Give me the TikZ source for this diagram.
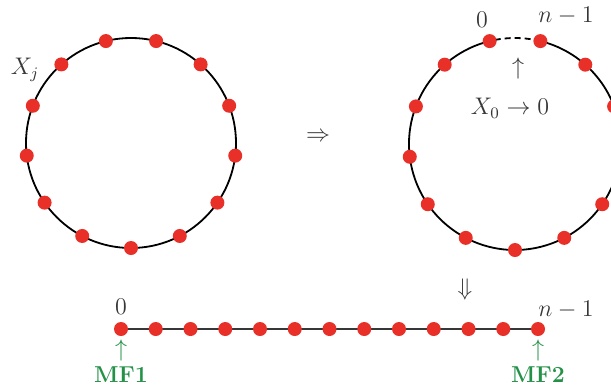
\documentclass[tikz,border=0pt]{standalone}
\usepackage{amsmath}
\usetikzlibrary{backgrounds}
\definecolor{dotred}{RGB}{232,48,40}
\definecolor{mfgreen}{RGB}{36,145,72}
\definecolor{txt}{RGB}{55,55,55}
\begin{document}
\begin{tikzpicture}[x=0.5pt,y=0.5pt,
  dot/.style={circle,fill=dotred,inner sep=0pt,minimum size=7pt},
  lbl/.style={text=txt,font=\fontsize{11.5}{13}\selectfont,inner sep=1pt},
  mf/.style={text=mfgreen,font=\fontsize{11.5}{13}\selectfont\bfseries,inner sep=1pt},
  ring/.style={line width=0.9pt,black},
  chain/.style={line width=0.9pt,txt}]
\useasboundingbox (0,0) rectangle (611,388);
\clip (0,0) rectangle (611,388);
\coordinate (LC) at (131,245);
\coordinate (RC) at (515,244);
% left ring
\draw[ring] (LC) circle[radius=52.5pt];
\foreach \k in {0,...,12}{
  \pgfmathsetmacro{\ang}{-90+\k*27.6923}
  \node[dot] (L\k) at ([shift={(\ang:52.5pt)}]LC) {};
}
% right ring
\draw[ring] ([shift={(103.85:53pt)}]RC) arc[start angle=103.85,end angle=436.15,radius=53pt];
\draw[ring,densely dashed] ([shift={(76.15:53pt)}]RC) arc[start angle=76.15,end angle=103.85,radius=53pt];
\foreach \k in {0,...,12}{
  \pgfmathsetmacro{\ang}{-90+\k*27.6923}
  \node[dot] (R\k) at ([shift={(\ang:53pt)}]RC) {};
}
% chain
\foreach \k in {0,...,12}{
  \node[dot] (B\k) at (121+\k*34.75,59) {};
}
\begin{pgfonlayer}{background}
\draw[chain] (B0) -- (B12);
\end{pgfonlayer}
% labels
\node[lbl] (xj) at (25,318) {$X_j$};
\node[lbl] (r0) at (482,368) {$0$};
\node[lbl] (rn) at (566,372) {$n-1$};
\node[lbl] (up) at (518,320) {$\uparrow$};
\node[lbl] (x0) at (510,280) {$X_0\to 0$};
\node[lbl] (imp) at (318,251) {$\Rightarrow$};
\node[lbl] (dimp) at (465,99) {$\Downarrow$};
\node[lbl] (b0) at (121,81) {$0$};
\node[lbl] (bn) at (566,78) {$n-1$};
\node[mf] (a1) at (121,38) {$\uparrow$};
\node[mf] (m1) at (121,13) {MF1};
\node[mf] (a2) at (538,38) {$\uparrow$};
\node[mf] (m2) at (538,13) {MF2};
\end{tikzpicture}
\end{document}
